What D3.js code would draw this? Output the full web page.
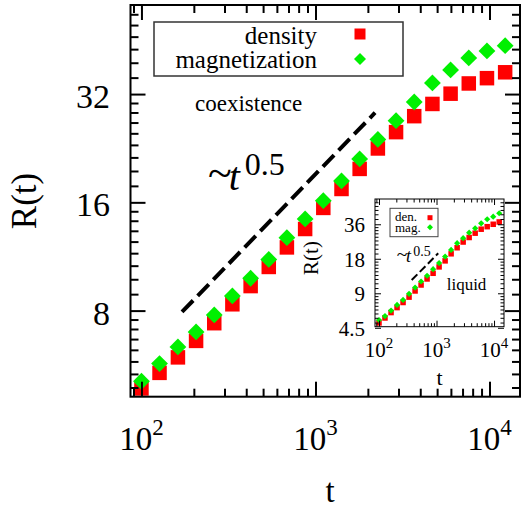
<!DOCTYPE html>
<html>
<head>
<meta charset="utf-8">
<script src="https://cdn.jsdelivr.net/npm/d3@7"></script>
<style>
body { margin: 0; background: #fff; }
svg { display: block; font-family: "Liberation Serif", "Times New Roman", Times, serif; }
</style>
</head>
<body>
<div id="chart"></div>
<script>
// data
var times = [100, 127, 162, 206, 262, 333, 424, 539, 685, 872, 1109, 1411, 1794, 2283, 2904, 3693, 4698, 5976, 7601, 9669, 12300];
var density = [4.86, 5.37, 5.93, 6.59, 7.38, 8.33, 9.36, 10.58, 11.99, 13.49, 15.44, 17.43, 19.82, 22.59, 25.08, 27.78, 30.04, 32.08, 34.25, 35.43, 36.79];
var magnetization = [5.09, 5.70, 6.34, 6.98, 7.78, 8.79, 9.84, 11.10, 12.76, 14.39, 16.17, 18.35, 21.12, 23.93, 26.99, 30.42, 34.36, 37.34, 40.32, 42.17, 43.62];
var inset_density = [4.96, 5.48, 6.11, 6.75, 7.48, 8.33, 9.43, 10.63, 12.0, 13.45, 15.29, 17.26, 19.89, 22.46, 25.2, 27.6, 30.1, 32.6, 34.3, 36.0, 37.7];
var inset_magnetization = [5.26, 5.70, 6.36, 7.13, 7.88, 8.91, 10.1, 11.4, 12.8, 14.6, 16.5, 18.8, 21.5, 24.6, 27.2, 30.4, 33.2, 36.7, 39.8, 41.9, 44.9];

var x_ticks = [100, 1000, 10000];
var x_tick_exp = ["2", "3", "4"];
var y_ticks = [8, 16, 32];
var inset_y_ticks = [4.5, 9, 18, 36];
var y_minor_bases = [4, 8, 16, 32];
var inset_minor_bases = [4.5, 9, 18, 36];

var guide_t = [171, 2200], guide_r = [7.93, 28.4];
var inset_guide_t = [370, 1071], inset_guide_r = [11.75, 20.1];

var RED = "#ff0000", GREEN = "#00f000";

var svg = d3.select("#chart").append("svg")
    .attr("width", 521).attr("height", 509);

var x_axis = d3.scaleLog().domain([86.5, 14970]).range([130.5, 520]);
var y_axis = d3.scaleLog().base(2).domain([4.61, 56.6]).range([396.7, 5]);

var ix = d3.scaleLog().domain([85.2, 14900]).range([375, 504]);
var iy = d3.scaleLog().base(2).domain([4.6, 59.8]).range([326.7, 199]);

function xMinor(x) {
    var out = [];
    [10, 100, 1000, 10000].forEach(function(b) {
        for (var k = 2; k <= 9; k++) {
            var v = b * k;
            if (v > x.domain()[0] && v < x.domain()[1]) out.push(v);
        }
    });
    return out;
}
function yMinor(y, bases) {
    var out = [];
    bases.forEach(function(b) {
        for (var k = 1; k <= 8; k++) {
            var v = b * (1 + k / 9);
            if (v > y.domain()[0] && v < y.domain()[1]) out.push(v);
        }
    });
    return out;
}

// inward ticks on all four sides
function frame(x, y, xmin, ymin, major, minor, sw) {
    var g = svg.append("g");
    var x0 = x.range()[0], x1 = x.range()[1], y0 = y.range()[0], y1 = y.range()[1];
    var sets = [
        [d3.axisBottom, x, y0, "x"], [d3.axisTop, x, y1, "x"],
        [d3.axisLeft, y, x0, "y"], [d3.axisRight, y, x1, "y"]
    ];
    sets.forEach(function(s) {
        var vals = s[3] == "x" ? [x_ticks, xmin] : [y === y_axis ? y_ticks : inset_y_ticks, ymin];
        [[vals[0], major], [vals[1], minor]].forEach(function(p) {
            var a = g.append("g")
                .attr("transform", s[3] == "x" ? "translate(0," + s[2] + ")" : "translate(" + s[2] + ",0)")
                .call(s[0](s[1]).tickValues(p[0]).tickSize(-p[1]).tickFormat(""));
            a.select(".domain").remove();
            a.selectAll("line").attr("stroke", "#000").attr("stroke-width", sw);
        });
    });
    g.append("rect").attr("x", x0).attr("y", y1)
        .attr("width", x1 - x0).attr("height", y0 - y1)
        .attr("fill", "none").attr("stroke", "#000").attr("stroke-width", sw);
}

function squares(x, y, data, size) {
    svg.append("g").selectAll("rect").data(data).enter().append("rect")
        .attr("x", function(d, i) { return x(times[i]) - size / 2; })
        .attr("y", function(d) { return y(d) - size / 2; })
        .attr("width", size).attr("height", size)
        .attr("fill", RED);
}
function diamonds(x, y, data, r) {
    svg.append("g").selectAll("path").data(data).enter().append("path")
        .attr("d", function(d, i) {
            var cx = x(times[i]), cy = y(d);
            return "M" + (cx - r) + "," + cy + "L" + cx + "," + (cy - r) + "L" + (cx + r) + "," + cy + "L" + cx + "," + (cy + r) + "Z";
        })
        .attr("fill", GREEN);
}

// ~t^0.5 label, pieces placed one by one
function powerLabel(x, y, fs, sfs, rise) {
    svg.append("text").attr("x", x).attr("y", y - fs * 0.05).attr("font-size", fs * 1.1)
        .attr("text-anchor", "start").text("~");
    svg.append("text").attr("x", x + fs * 0.52).attr("y", y).attr("font-size", fs)
        .attr("font-style", "italic").text("t");
    svg.append("text").attr("x", x + fs * 0.92).attr("y", y - rise).attr("font-size", sfs)
        .text("0.5");
}

// ---- main plot ----
svg.append("line")
    .attr("x1", x_axis(guide_t[0])).attr("y1", y_axis(guide_r[0]))
    .attr("x2", x_axis(guide_t[1])).attr("y2", y_axis(guide_r[1]))
    .attr("stroke", "#000").attr("stroke-width", 4)
    .attr("stroke-dasharray", "16,6.5");

squares(x_axis, y_axis, density, 14.5);
diamonds(x_axis, y_axis, magnetization, 8.4);

frame(x_axis, y_axis, xMinor(x_axis), yMinor(y_axis, y_minor_bases), 15, 8, 2);

// tick labels
var xl = svg.append("g").attr("font-size", 33).attr("text-anchor", "middle");
x_ticks.forEach(function(v, i) {
    var t = xl.append("text").attr("x", x_axis(v)).attr("y", 450);
    t.append("tspan").text("10");
    t.append("tspan").attr("font-size", 23).attr("dy", -15).text(x_tick_exp[i]);
});
svg.append("g").attr("font-size", 34).attr("text-anchor", "end")
    .selectAll("text").data(y_ticks).enter().append("text")
    .attr("x", 110).attr("y", function(d) { return y_axis(d) + 14; })
    .text(function(d) { return d; });

svg.append("text").attr("x", 330).attr("y", 502)
    .attr("font-size", 33).attr("text-anchor", "middle").text("t");
svg.append("text").attr("transform", "translate(36,201) rotate(-90)")
    .attr("font-size", 35).attr("text-anchor", "middle").text("R(t)");

// legend
svg.append("rect").attr("x", 154).attr("y", 22).attr("width", 249).attr("height", 54)
    .attr("fill", "#fff").attr("stroke", "#333").attr("stroke-width", 1.5);
svg.append("text").attr("x", 317).attr("y", 43.5).attr("font-size", 25)
    .attr("text-anchor", "end").text("density");
svg.append("text").attr("x", 317).attr("y", 68).attr("font-size", 25)
    .attr("text-anchor", "end").text("magnetization");
svg.append("rect").attr("x", 354.5).attr("y", 28.5).attr("width", 11).attr("height", 11).attr("fill", RED);
svg.append("path").attr("d", "M354,59L360,53L366,59L360,65Z").attr("fill", GREEN);

svg.append("text").attr("x", 195).attr("y", 111).attr("font-size", 23).text("coexistence");

powerLabel(208, 190, 40, 32, 15);

// ---- inset ----
svg.append("rect").attr("x", 375).attr("y", 199).attr("width", 129).attr("height", 127.7)
    .attr("fill", "#fff");

svg.append("line")
    .attr("x1", ix(inset_guide_t[0])).attr("y1", iy(inset_guide_r[0]))
    .attr("x2", ix(inset_guide_t[1])).attr("y2", iy(inset_guide_r[1]))
    .attr("stroke", "#000").attr("stroke-width", 2)
    .attr("stroke-dasharray", "8,3.5");

squares(ix, iy, inset_density, 5.5);
diamonds(ix, iy, inset_magnetization, 3.1);

frame(ix, iy, xMinor(ix), yMinor(iy, inset_minor_bases), 6, 3.5, 1);

var ixl = svg.append("g").attr("font-size", 21).attr("text-anchor", "middle");
x_ticks.forEach(function(v, i) {
    var t = ixl.append("text").attr("x", ix(v)).attr("y", 357);
    t.append("tspan").text("10");
    t.append("tspan").attr("font-size", 15).attr("dy", -9).text(x_tick_exp[i]);
});
svg.append("g").attr("font-size", 21).attr("text-anchor", "end")
    .selectAll("text").data(inset_y_ticks).enter().append("text")
    .attr("x", 365).attr("y", function(d) { return iy(d) + 8; })
    .text(function(d) { return d; });
svg.append("text").attr("x", 439.5).attr("y", 385)
    .attr("font-size", 22).attr("text-anchor", "middle").text("t");
svg.append("text").attr("transform", "translate(318,258) rotate(-90)")
    .attr("font-size", 21).attr("text-anchor", "middle").text("R(t)");

svg.append("rect").attr("x", 390).attr("y", 208.3).attr("width", 48).attr("height", 28.4)
    .attr("fill", "#fff").attr("stroke", "#444").attr("stroke-width", 1);
svg.append("text").attr("x", 395).attr("y", 220.5).attr("font-size", 13).text("den.");
svg.append("text").attr("x", 395).attr("y", 232).attr("font-size", 13).text("mag.");
svg.append("rect").attr("x", 427.5).attr("y", 215.2).attr("width", 5).attr("height", 5).attr("fill", RED);
svg.append("path").attr("d", "M427,227.3L430,224.3L433,227.3L430,230.3Z").attr("fill", GREEN);

svg.append("text").attr("x", 446.7).attr("y", 290).attr("font-size", 17).text("liquid");

powerLabel(396.7, 262, 18, 14, 6);
</script>
</body>
</html>
